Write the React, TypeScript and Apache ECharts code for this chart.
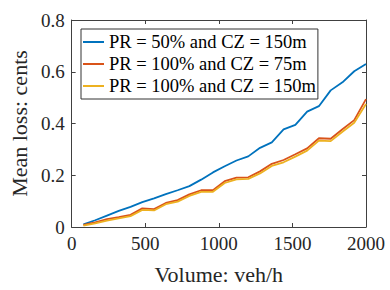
import React, { useEffect, useRef } from "react";
import * as echarts from "echarts";

const volumes = [80, 160, 240, 320, 400, 480, 560, 640, 720, 800, 880, 960, 1040, 1120, 1200, 1280, 1360, 1440, 1520, 1600, 1680, 1760, 1840, 1920, 2000];
const pr50cz150 = [0.010, 0.026, 0.044, 0.062, 0.078, 0.096, 0.111, 0.127, 0.142, 0.158, 0.183, 0.211, 0.235, 0.257, 0.273, 0.306, 0.327, 0.377, 0.395, 0.446, 0.467, 0.528, 0.559, 0.602, 0.630];
const pr100cz75 = [0.008, 0.018, 0.030, 0.038, 0.047, 0.072, 0.069, 0.093, 0.104, 0.126, 0.142, 0.142, 0.177, 0.191, 0.192, 0.215, 0.244, 0.259, 0.281, 0.304, 0.343, 0.341, 0.378, 0.413, 0.494];
const pr100cz150 = [0.005, 0.014, 0.025, 0.033, 0.042, 0.066, 0.064, 0.088, 0.098, 0.120, 0.136, 0.136, 0.170, 0.184, 0.186, 0.207, 0.236, 0.250, 0.272, 0.295, 0.334, 0.332, 0.368, 0.403, 0.475];
const seriesNames = ["PR = 50% and CZ = 150m", "PR = 100% and CZ = 75m", "PR = 100% and CZ = 150m"];
const seriesColors = ["#0072BD", "#D95319", "#EDB120"];

const FONT = "'Liberation Serif', 'DejaVu Serif', serif";
const AX = "#404040";

export default function App() {
  const ref = useRef<HTMLDivElement>(null);
  useEffect(() => {
    if (!ref.current) return;
    const chart = echarts.init(ref.current, undefined, { renderer: "svg" });
    const allData = [pr50cz150, pr100cz75, pr100cz150];
    const tickCommon = { show: true, inside: true, length: 4, lineStyle: { color: AX, width: 1 } };
    const lineCommon = { show: true, onZero: false, lineStyle: { color: AX, width: 1 } };
    chart.setOption({
      animation: false,
      backgroundColor: "#fff",
      grid: { left: 71, right: 24, top: 20, bottom: 54, containLabel: false },
      legend: {
        orient: "vertical",
        left: 81,
        top: 29,
        icon: "rect",
        itemWidth: 21,
        itemHeight: 2,
        itemGap: 2,
        padding: [3, 2, 3, 2],
        borderColor: "#333",
        borderWidth: 1,
        borderRadius: 0,
        backgroundColor: "#fff",
        textStyle: { fontFamily: FONT, fontSize: 18.5, color: "#000", lineHeight: 20 },
        data: seriesNames,
      },
      xAxis: [
        {
          type: "value", min: 0, max: 2000, interval: 500, position: "bottom",
          axisLine: lineCommon, axisTick: tickCommon, splitLine: { show: false },
          axisLabel: { fontFamily: FONT, fontSize: 19, color: "#262626", margin: 7, formatter: (v: number) => String(v) },
          name: "Volume: veh/h", nameLocation: "middle", nameGap: 36,
          nameTextStyle: { fontFamily: FONT, fontSize: 22, color: "#262626" },
        },
        {
          type: "value", min: 0, max: 2000, interval: 500, position: "top",
          axisLine: lineCommon, axisTick: tickCommon, splitLine: { show: false },
          axisLabel: { show: false },
        },
      ],
      yAxis: [
        {
          type: "value", min: 0, max: 0.8, interval: 0.2, position: "left",
          axisLine: lineCommon, axisTick: tickCommon, splitLine: { show: false },
          axisLabel: {
            fontFamily: FONT, fontSize: 19, color: "#262626", margin: 7,
            formatter: (v: number) => (v === 0 ? "0" : v.toFixed(1)),
          },
          name: "Mean loss: cents", nameLocation: "middle", nameGap: 35,
          nameTextStyle: { fontFamily: FONT, fontSize: 22, color: "#262626" },
        },
        {
          type: "value", min: 0, max: 0.8, interval: 0.2, position: "right",
          axisLine: lineCommon, axisTick: tickCommon, splitLine: { show: false },
          axisLabel: { show: false },
        },
      ],
      series: seriesNames.map((name, k) => ({
        name,
        type: "line",
        xAxisIndex: 0,
        yAxisIndex: 0,
        symbol: "none",
        color: seriesColors[k],
        itemStyle: { color: seriesColors[k] },
        lineStyle: { color: seriesColors[k], width: 1.8 },
        data: volumes.map((v, i) => [v, allData[k][i]]),
      })),
    });
    return () => chart.dispose();
  }, []);
  return <div ref={ref} style={{ position: "absolute", left: 0, top: 0, width: 390, height: 290 }} />;
}
